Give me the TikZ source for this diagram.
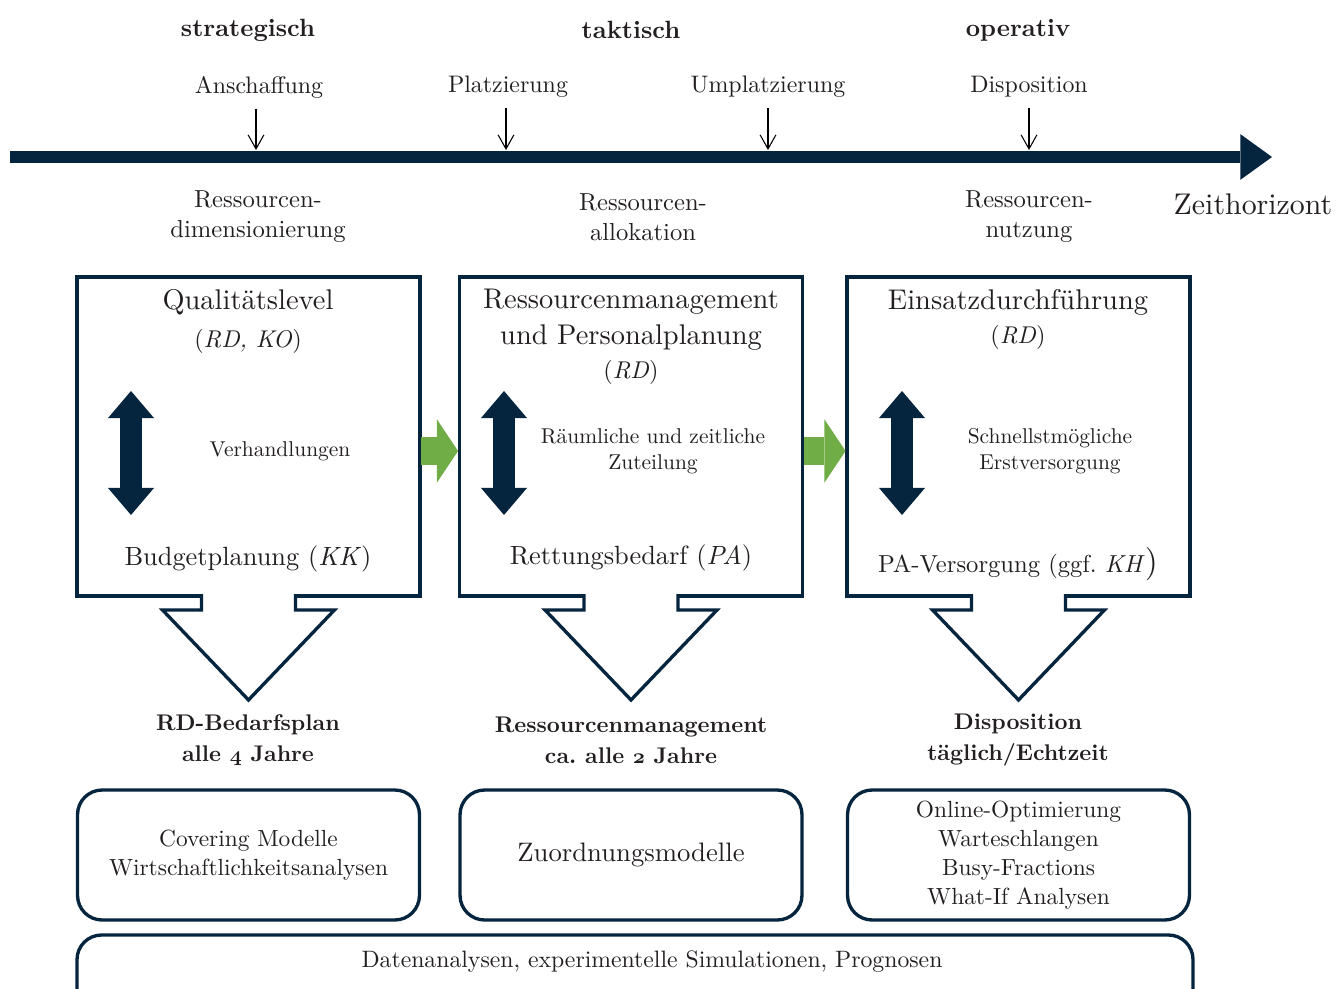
\documentclass[tikz,border=0pt]{standalone}
\usepackage{fontspec}
\setmainfont{lmroman10}[Extension=.otf, UprightFont=*-regular, BoldFont=*-bold,
  ItalicFont=*-italic, BoldItalicFont=*-bolditalic]
\usetikzlibrary{arrows.meta,calc}
\definecolor{navy}{RGB}{5,36,62}
\definecolor{flowgreen}{RGB}{112,173,71}
\definecolor{ink}{RGB}{35,31,32}

\begin{document}
\begin{tikzpicture}[x=0.02cm,y=-0.02cm,
  every node/.style={text=ink, inner sep=0pt, outer sep=0pt},
  head/.style={font=\fontsize{14.2}{17}\selectfont\bfseries},
  event/.style={font=\fontsize{13.6}{16}\selectfont},
  phase/.style={font=\fontsize{14}{17}\selectfont, align=center},
  panel/.style={draw=navy, line width=1.9pt, minimum width=6.86cm, minimum height=6.38cm},
  title/.style={font=\fontsize{16.2}{20.4}\selectfont, align=center},
  sub/.style={font=\fontsize{13.8}{16}\selectfont},
  middle/.style={font=\fontsize{12.2}{14.8}\selectfont, align=center},
  result/.style={font=\fontsize{12.9}{17.6}\selectfont\bfseries, align=center},
  method/.style={draw=navy, line width=1.9pt, rounded corners=14pt, minimum width=6.84cm, minimum height=2.6cm, align=center, font=\fontsize{13.3}{16.5}\selectfont},
  notch/.style={draw=navy, line width=1.9pt, fill=white},
  eventarrow/.style={draw=black, line width=0.6pt, shorten <=6pt, -{Straight Barb[length=8pt,width=9pt]}},
  timeline/.style={draw=navy, line width=6.8pt, -{Triangle[length=18pt,width=26pt,line width=0pt]}},
  flow/.style={draw=flowgreen, line width=16.5pt, -{Triangle[length=12pt,width=36pt,line width=0pt]}},
  duality/.style={draw=navy, line width=12.5pt, arrows={Triangle[length=15.4pt,width=26.2pt,line width=0pt]-Triangle[length=15.4pt,width=26.2pt,line width=0pt]}},
]
\clip (0,0) rectangle (1338,989);

% Time axis
\coordinate (tstart) at (10,157);
\coordinate (tend) at (1272,157);
\draw[timeline] (tstart) -- (tend);
\node[font=\fontsize{17}{20}\selectfont] (horizont) at (1253,204) {Zeithorizont};

% Planning levels
\node[head] (strat) at (248,30) {strategisch};
\node[head] (takt) at (631,30) {taktisch};
\node[head] (oper) at (1018,30) {operativ};

% Decisions on the axis
\node[event] (ansch) at (259,87) {Anschaffung};
\node[event] (platz) at (508,87) {Platzierung};
\node[event] (umpl) at (768,87) {Umplatzierung};
\node[event] (dispo) at (1029,87) {Disposition};
\coordinate (pa) at (256,150);
\coordinate (pb) at (506,150);
\coordinate (pc) at (768,150);
\coordinate (pd) at (1029,150);
\draw[eventarrow] (ansch.south -| pa) -- (pa);
\draw[eventarrow] (platz.south -| pb) -- (pb);
\draw[eventarrow] (umpl.south -| pc) -- (pc);
\draw[eventarrow] (dispo.south -| pd) -- (pd);

\node[phase] (dimens) at (258,217) {Ressourcen-\\dimensionierung};
\node[phase] (alloc) at (643,217) {Ressourcen-\\allokation};
\node[phase] (nutz) at (1029,217) {Ressourcen-\\nutzung};

% Panels
\node[panel] (qual) at (248.5,436.5) {};
\node[panel] (ress) at (631,436.5) {};
\node[panel] (einsatz) at (1018.5,436.5) {};

\filldraw[notch] ($(qual.south)+(-47,-1.8)$) -- ++(0,15.8) -- ++(-39,0) -- ($(qual.south)+(0,104)$)
  -- ($(qual.south)+(86,14)$) -- ++(-39,0) -- ++(0,-15.8);
\filldraw[notch] ($(ress.south)+(-47,-1.8)$) -- ++(0,15.8) -- ++(-39,0) -- ($(ress.south)+(0,104)$)
  -- ($(ress.south)+(86,14)$) -- ++(-39,0) -- ++(0,-15.8);
\filldraw[notch] ($(einsatz.south)+(-47,-1.8)$) -- ++(0,15.8) -- ++(-39,0) -- ($(einsatz.south)+(0,104)$)
  -- ($(einsatz.south)+(86,14)$) -- ++(-39,0) -- ++(0,-15.8);

\draw[flow] ($(qual.east)+(1.5,14.5)$) -- ($(ress.west)+(-1.5,14.5)$);
\draw[flow] ($(ress.east)+(1.5,14.5)$) -- ($(einsatz.west)+(-1.5,14.5)$);

% Panel texts
\node[title] (qualtitle) at (248,302) {Qualitätslevel};
\node[sub] (qualsub) at (248,341) {(\textit{RD, KO})};
\draw[duality] (131,391) -- (131,515);
\node[middle] (verhandl) at (280,451) {Verhandlungen};
\node[font=\fontsize{15}{18}\selectfont] (budget) at (248,559) {Budgetplanung (\textit{KK})};

\node[title] (resstitle) at (631,320) {Ressourcenmanagement\\und Personalplanung};
\node[sub] (resssub) at (631,372) {(\textit{RD})};
\draw[duality] (504,391) -- (504,515);
\node[middle] (zuteil) at (653,451) {Räumliche und zeitliche\\Zuteilung};
\node[font=\fontsize{15}{18}\selectfont] (bedarf) at (631,558) {Rettungsbedarf (\textit{PA})};

\node[title] (einsatztitle) at (1018,302) {Einsatzdurchführung};
\node[sub] (einsatzsub) at (1018,337) {(\textit{RD})};
\draw[duality] (902,391) -- (902,515);
\node[middle] (erstvers) at (1050,451) {Schnellstmögliche\\Erstversorgung};
\node[font=\fontsize{14}{18}\selectfont] (paversorg) at (1018,564) {PA-Versorgung (ggf.\ \textit{KH}{\fontsize{19}{20}\selectfont)}};

% Results
\node[result] (planrd) at (248,740) {RD-Bedarfsplan\\alle {\boldmath$\mathnormal{4}$} Jahre};
\node[result] (planress) at (631,740) {Ressourcenmanagement\\ca.\ alle {\boldmath$\mathnormal{2}$} Jahre};
\node[result] (plandispo) at (1018,740) {Disposition\\täglich/Echtzeit};

% Methods
\node[method] (covering) at (248.5,855) {Covering Modelle\\Wirtschaftlichkeitsanalysen};
\node[method, font=\fontsize{15.2}{18}\selectfont] (zuordnung) at (631,855) {Zuordnungsmodelle};
\node[method] (online) at (1018.5,855) {Online-Optimierung\\Warteschlangen\\Busy-Fractions\\What-If Analysen};

\draw[navy, line width=1.9pt, rounded corners=14pt] (77,935) rectangle (1193,1030);
\node[font=\fontsize{13.5}{16}\selectfont] (daten) at (652,962) {Datenanalysen, experimentelle Simulationen, Prognosen};
\end{tikzpicture}
\end{document}
